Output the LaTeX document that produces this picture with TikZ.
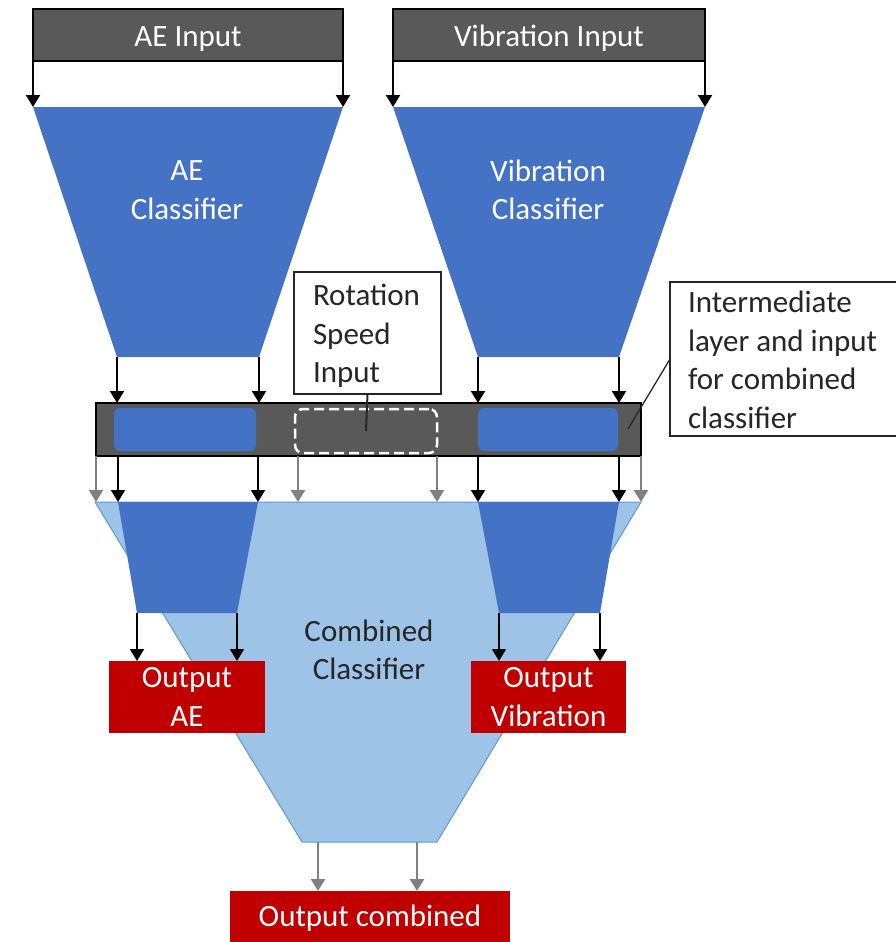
\documentclass[tikz,border=0pt]{standalone}
\usepackage{fontspec}
\setmainfont{Carlito}
\usetikzlibrary{arrows.meta}
\definecolor{dgray}{HTML}{595959}
\definecolor{cblue}{HTML}{4472C4}
\definecolor{lblue}{HTML}{9DC3E6}
\definecolor{lbord}{HTML}{5B9BD5}
\definecolor{cred}{HTML}{C00000}
\definecolor{agray}{HTML}{808080}
\definecolor{txt}{HTML}{262626}
\begin{document}
\begin{tikzpicture}[x=1pt,y=-1pt,
  every node/.style={font=\fontsize{31}{38.5}\selectfont, inner sep=0pt, outer sep=0pt},
  inbox/.style={draw=black, line width=2pt, fill=dgray, text=white, minimum height=52, text height=22pt, text depth=0pt},
  outbox/.style={fill=cred, text=white, align=center},
  innerbox/.style={fill=cblue, rounded corners=6pt, minimum height=43},
  arr/.style={-{Triangle[width=14pt,length=12pt]}, line width=2pt, draw=black},
  garr/.style={arr, draw=agray, line width=2.4pt},
  wtext/.style={text=white, align=center},
  btext/.style={text=txt, align=left},
]
\useasboundingbox (0,0) rectangle (895,942);

% combined classifier
\coordinate (cTL) at (95,502); \coordinate (cTR) at (641,502);
\coordinate (cBR) at (437,842); \coordinate (cBL) at (302,842);
\filldraw[fill=lblue, draw=lbord, line width=1pt] (cTL) -- (cTR) -- (cBR) -- (cBL) -- cycle;
\node[text=txt, align=center] (ctext) at (369,650) {Combined\\Classifier};

% lower trapezoids
\coordinate (laTL) at (118,502); \coordinate (laTR) at (258,502);
\coordinate (laBR) at (237,613); \coordinate (laBL) at (137,613);
\fill[cblue] (laTL) -- (laTR) -- (laBR) -- (laBL) -- cycle;
\coordinate (lvTL) at (478,502); \coordinate (lvTR) at (619,502);
\coordinate (lvBR) at (600,613); \coordinate (lvBL) at (499,613);
\fill[cblue] (lvTL) -- (lvTR) -- (lvBR) -- (lvBL) -- cycle;

% upper trapezoids
\coordinate (aTL) at (33,107); \coordinate (aTR) at (343,107);
\coordinate (aBR) at (259,357); \coordinate (aBL) at (117,357);
\fill[cblue] (aTL) -- (aTR) -- (aBR) -- (aBL) -- cycle;
\node[wtext] (aetext) at (187,190) {AE\\Classifier};
\coordinate (vTL) at (393,107); \coordinate (vTR) at (705,107);
\coordinate (vBR) at (619,357); \coordinate (vBL) at (478,357);
\fill[cblue] (vTL) -- (vTR) -- (vBR) -- (vBL) -- cycle;
\node[wtext] (vibtext) at (548,190) {Vibration\\Classifier};

% inputs
\node[inbox, minimum width=310] (aein) at (188,35.5) {AE Input};
\node[inbox, minimum width=312] (vibin) at (549,35.5) {Vibration Input};
\draw[arr] (aein.south west) -- (aTL);
\draw[arr] (aein.south east) -- (aTR);
\draw[arr] (vibin.south west) -- (vTL);
\draw[arr] (vibin.south east) -- (vTR);

% intermediate bar
\node[draw=black, line width=2pt, fill=dgray, minimum width=545, minimum height=53] (bar) at (368.5,429.5) {};
\node[innerbox, minimum width=142] (barae) at (185,429.5) {};
\node[innerbox, minimum width=140] (barvib) at (548,429.5) {};
\node[draw=white, line width=2.5pt, dash pattern=on 10pt off 5pt, rounded corners=8pt, minimum width=142, minimum height=44] (bardash) at (366,431) {};

% rotation speed input
\node[draw=txt, line width=1.5pt, fill=white, minimum width=147, minimum height=122] (rot) at (367.5,333) {};
\node[btext, anchor=west] (rottext) at (313,336) {Rotation\\Speed\\Input};
\draw[line width=2pt, draw=txt] (rot.south) -- (bardash.center);

% callout
\node[draw=txt, line width=1.5pt, fill=white, minimum width=228, minimum height=154] (callout) at (784,359) {};
\node[btext, anchor=west] (callouttext) at (688,360) {Intermediate\\layer and input\\for combined\\classifier};
\coordinate (cpt) at (628,429);
\draw[line width=1.3pt, draw=txt] (callout.west) -- (cpt);

% arrows into bar
\draw[arr] (aBL) -- (aBL |- bar.north);
\draw[arr] (aBR) -- (aBR |- bar.north);
\draw[arr] (vBL) -- (vBL |- bar.north);
\draw[arr] (vBR) -- (vBR |- bar.north);

% arrows below bar
\draw[arr] (laTL |- bar.south) -- (laTL);
\draw[arr] (laTR |- bar.south) -- (laTR);
\draw[arr] (lvTL |- bar.south) -- (lvTL);
\draw[arr] (lvTR |- bar.south) -- (lvTR);
\draw[garr] (bar.south west) -- (bar.south west |- cTL);
\draw[garr] (bar.south east) -- (bar.south east |- cTR);
\draw[garr] ([xshift=3pt]bardash.south west |- bar.south) -- ([xshift=3pt]bardash.south west |- cTL);
\draw[garr] (bardash.south east |- bar.south) -- (bardash.south east |- cTL);

% outputs
\node[outbox, minimum width=156, minimum height=72] (oae) at (187,697) {Output\\AE};
\node[outbox, minimum width=155, minimum height=72] (ovib) at (548.5,697) {Output\\Vibration};
\node[outbox, minimum width=280, minimum height=54] (ocomb) at (370,918) {Output combined};

\draw[arr] (laBL) -- (laBL |- oae.north);
\draw[arr] (laBR) -- (laBR |- oae.north);
\draw[arr] (lvBL) -- (lvBL |- ovib.north);
\draw[arr] (lvBR) -- (lvBR |- ovib.north);

\coordinate (cOut1) at (318,842); \coordinate (cOut2) at (417,842);
\draw[garr] (cOut1) -- (cOut1 |- ocomb.north);
\draw[garr] (cOut2) -- (cOut2 |- ocomb.north);
\end{tikzpicture}
\end{document}
